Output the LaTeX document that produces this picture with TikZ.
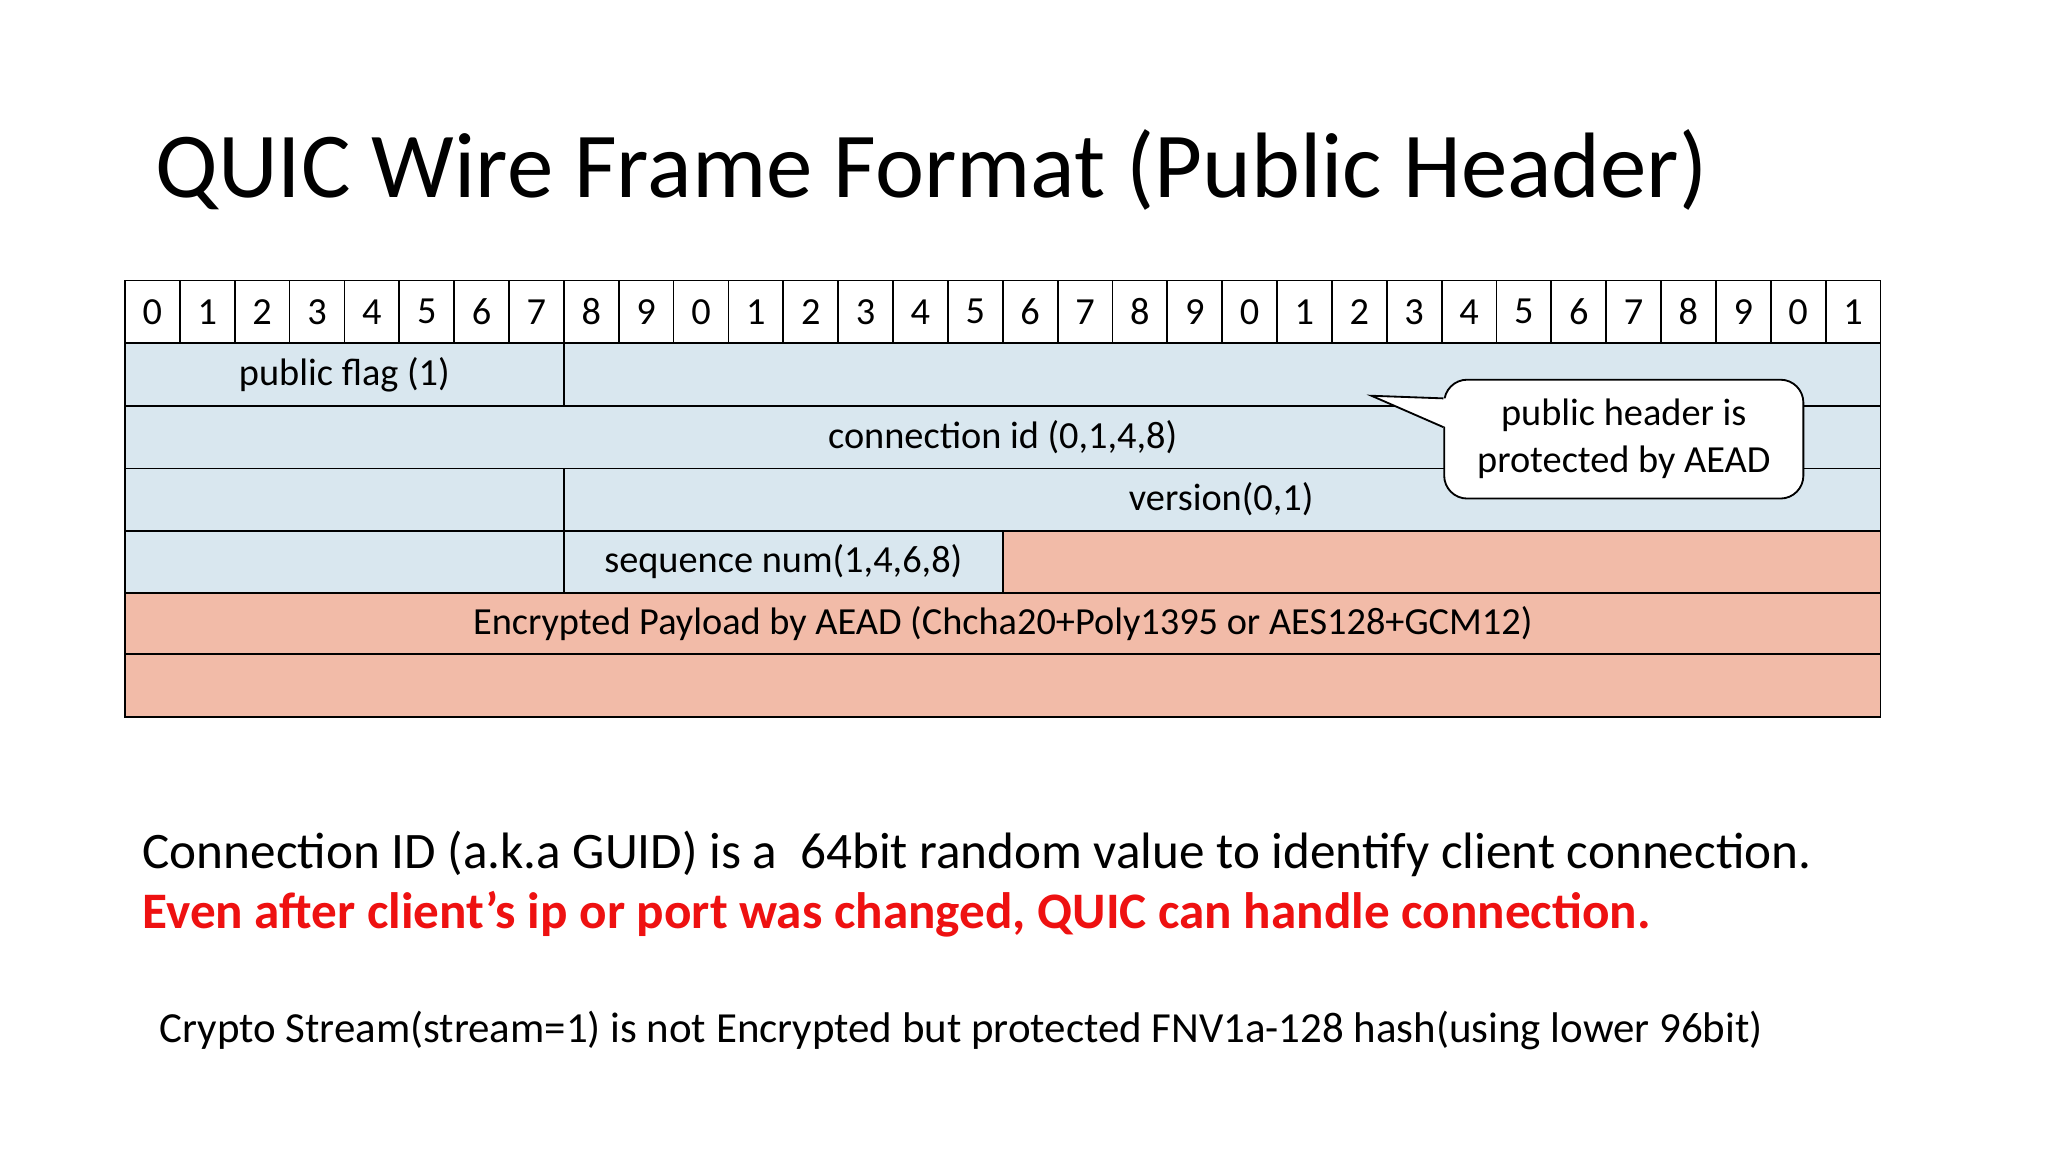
\documentclass[tikz,border=0pt]{standalone}
\usepackage{fontspec}
\setmainfont{Carlito}
\usetikzlibrary{shapes.callouts}
\definecolor{qblue}{HTML}{D9E7EF}
\definecolor{qsalmon}{HTML}{F2BBA8}
\definecolor{qred}{HTML}{EE1111}
\tikzset{
 cellbox/.style={draw=black, line width=0.8pt, anchor=north west, inner sep=0pt, font=\fontsize{16.7}{18}\selectfont},
}
\newcommand{\cellat}[7]{% name, x, y, w, fill, height, text
 \node[cellbox, fill=#5, minimum width=#4*0.02cm, minimum height=#6*0.02cm] (#1) at (#2,#3) {#7};}
\begin{document}
\begin{tikzpicture}[x=0.02cm,y=-0.02cm]
\useasboundingbox[fill=white] (0,0) rectangle (1568,882);
\node[anchor=west, font=\fontsize{40.5}{46}\selectfont] (title) at (113,130) {QUIC Wire Frame Format (Public Header)};
% header
\foreach \i in {0,...,31}{
 \pgfmathtruncatemacro{\d}{mod(\i,10)}
 \node[cellbox, fill=white, minimum width=42*0.02cm, minimum height=48*0.02cm] (h\i) at (95+42*\i,214) {\d};
}
\cellat{pf}{95}{262}{336}{qblue}{48}{public flag (1)}
\cellat{r1}{431}{262}{1008}{qblue}{48}{}
\cellat{cid}{95}{310}{1344}{qblue}{48}{connection id (0,1,4,8)}
\cellat{r3a}{95}{358}{336}{qblue}{48}{}
\cellat{ver}{431}{358}{1008}{qblue}{48}{}
\cellat{r4a}{95}{406}{336}{qblue}{47}{}
\cellat{seq}{431}{406}{336}{qblue}{47}{sequence num(1,4,6,8)}
\cellat{r4c}{767}{406}{672}{qsalmon}{47}{}
\cellat{enc}{95}{453}{1344}{qsalmon}{47}{Encrypted Payload by AEAD (Chcha20+Poly1395 or AES128+GCM12)}
\cellat{r6}{95}{500}{1344}{qsalmon}{48}{}
\node[font=\fontsize{16.7}{18}\selectfont] (verlbl) at (935,382) {version(0,1)};
% callout
\coordinate (tip) at (1050,303);
\node[draw=black, fill=white, line width=0.8pt, rounded corners=10pt, minimum width=275*0.02cm, minimum height=91*0.02cm, anchor=north west, align=center, font=\fontsize{16.7}{20.5}\selectfont] (call) at (1105,290) {public header is\\protected by AEAD};
\fill[white] (1107,305) -- (tip) -- (1107,327) -- cycle;
\draw[line width=0.8pt] (1105,305) -- (tip) -- (1105,327);
% text
\node[anchor=west, font=\fontsize{22.3}{25}\selectfont] (t1) at (103,654) {Connection ID (a.k.a GUID) is a\ \ 64bit random value to identify client connection.};
\node[anchor=west, font=\fontsize{22.3}{25}\selectfont\bfseries, text=qred] (t2) at (103,700) {Even after client’s ip or port was changed, QUIC can handle connection.};
\node[anchor=west, font=\fontsize{18.7}{21}\selectfont] (t3) at (116,789) {Crypto Stream(stream=1) is not Encrypted but protected FNV1a-128 hash(using lower 96bit)};
\end{tikzpicture}
\end{document}
